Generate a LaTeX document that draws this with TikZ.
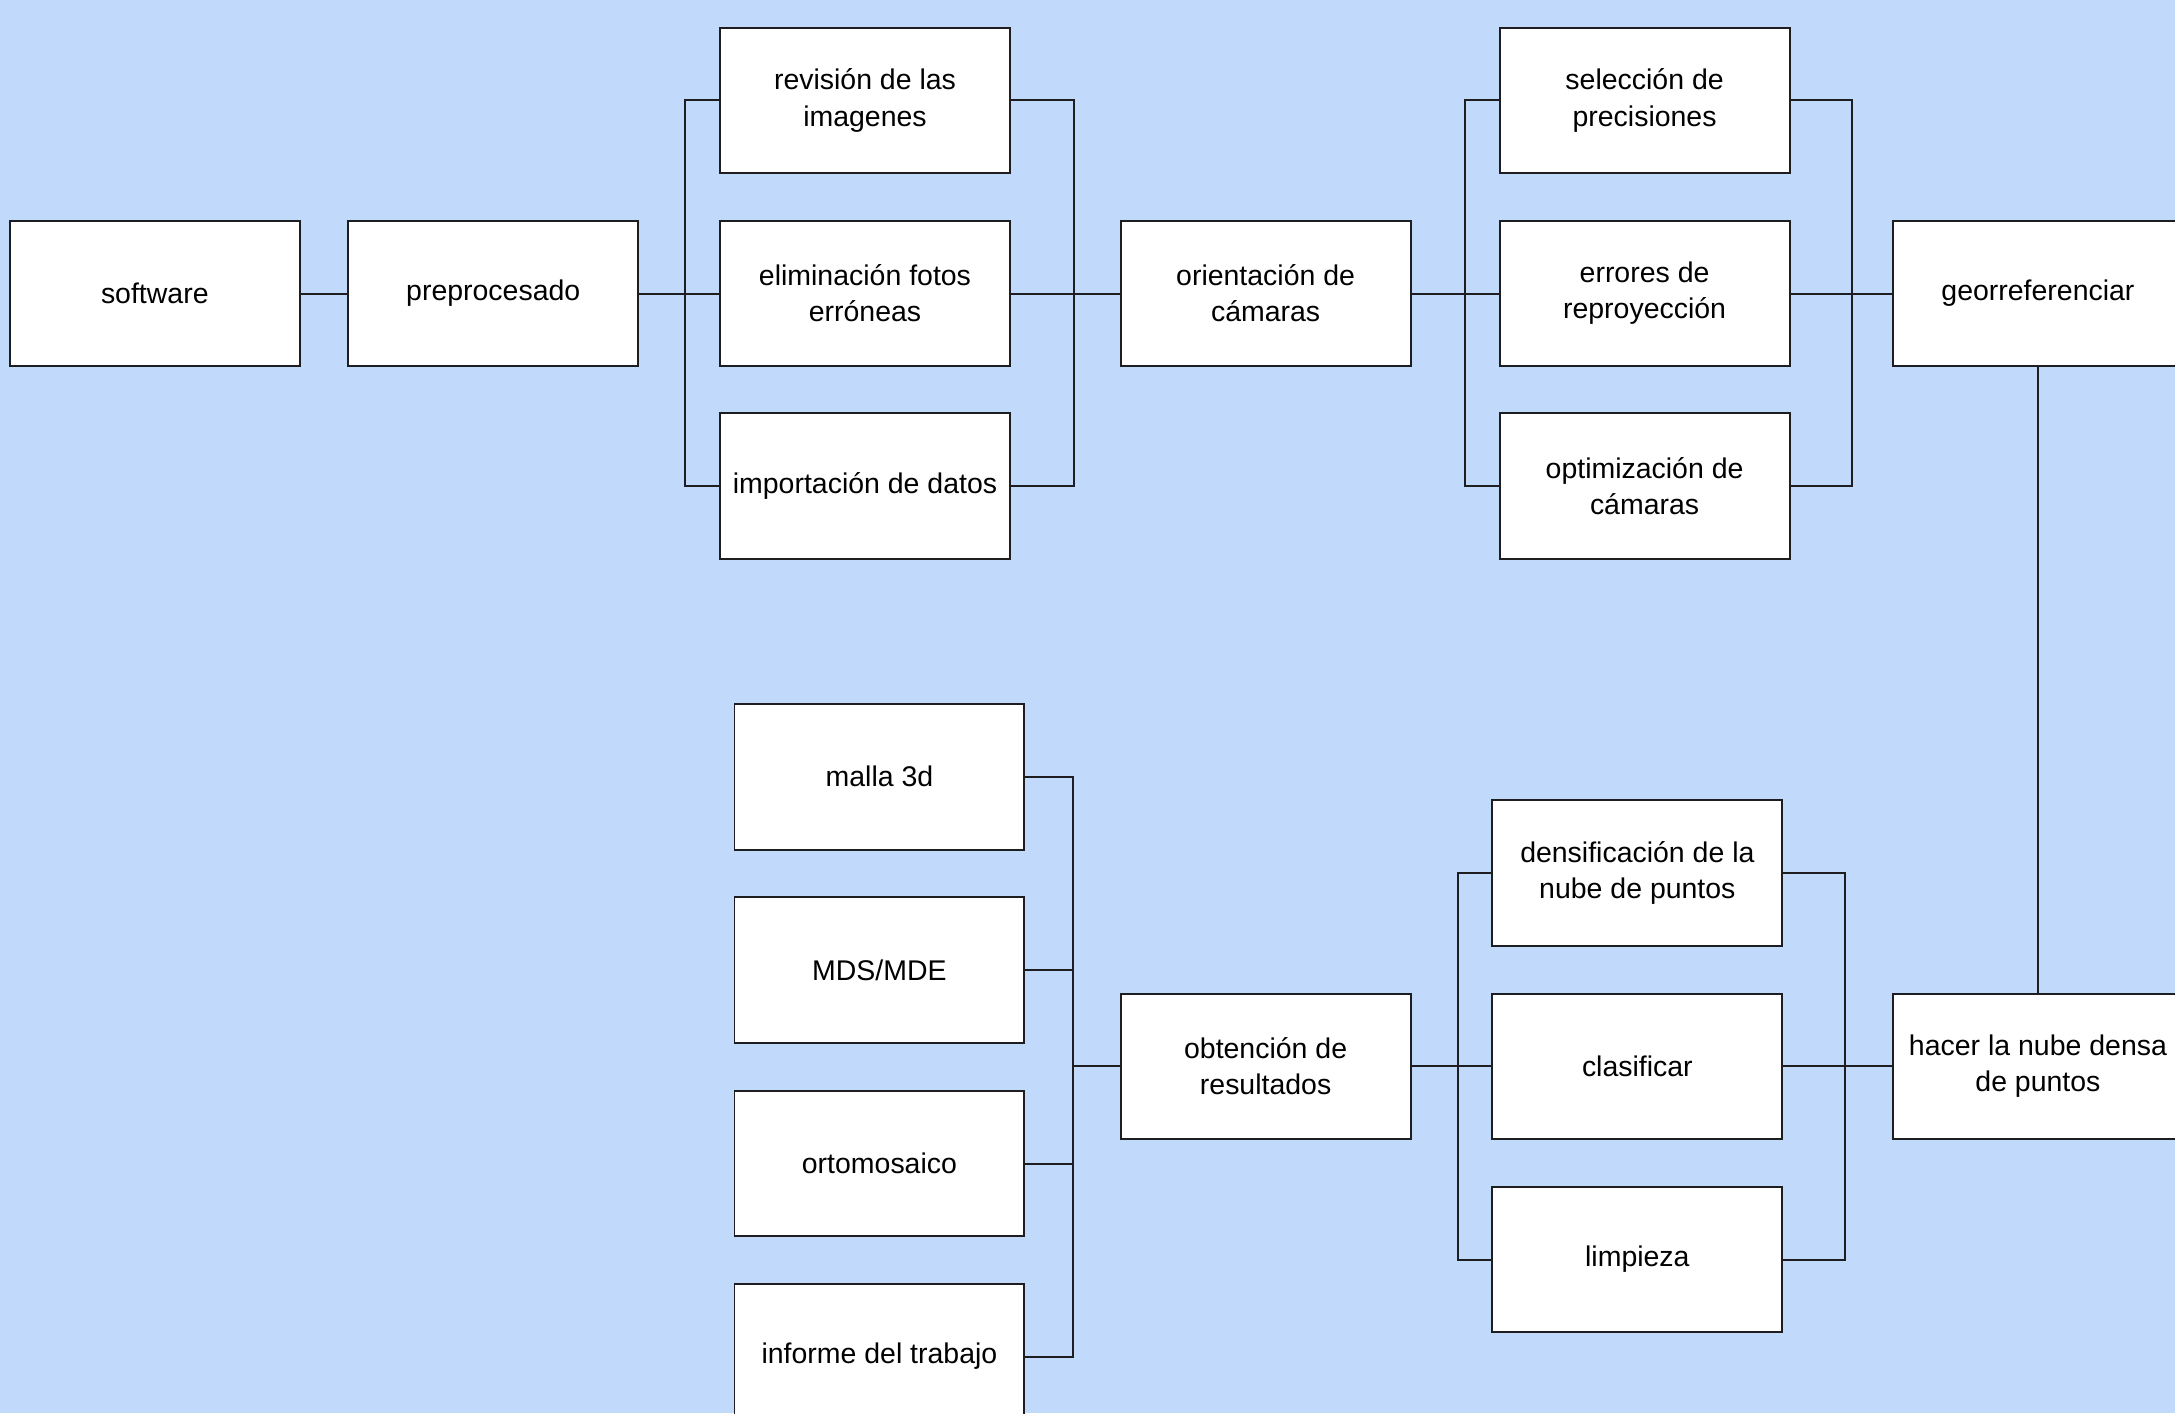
\documentclass[tikz,border=0pt]{standalone}
\usepackage{fontspec}
\setmainfont{Liberation Sans}
\usepackage{tkz-graph}
\definecolor{fondo}{RGB}{193,218,251}
\definecolor{trazo}{RGB}{30,30,32}

\begin{document}
\begin{tikzpicture}
\GraphInit[vstyle = Normal]
\tikzset{
  VertexStyle/.append style = { shape=rectangle, fill=white, draw=trazo,
                                line width=1pt, inner sep=2pt,
                                minimum width=5.225cm, minimum height=2.625cm,
                                align=center,
                                font = \fontsize{14.6}{18.5}\selectfont},
  EdgeStyle/.append style = {draw=trazo, line width=1pt},
}
  \path[use as bounding box, fill=fondo] (0,0) rectangle (39.2,-25.475);

  % primera fila
  \Vertex[x=2.79,  y=-5.29, L=software]{Soft}
  \Vertex[x=8.89,  y=-5.29, L=preprocesado]{Pre}
  \Vertex[x=15.59, y=-1.81, L={revisión de las\\imagenes}]{Rev}
  \Vertex[x=15.59, y=-5.29, L={eliminación fotos\\erróneas}]{Eli}
  \Vertex[x=15.59, y=-8.76, L={importación de datos}]{Imp}
  \Vertex[x=22.81, y=-5.29, L={orientación de\\cámaras}]{Ori}
  \Vertex[x=29.64, y=-1.81, L={selección de\\precisiones}]{Sel}
  \Vertex[x=29.64, y=-5.29, L={errores de\\reproyección}]{Err}
  \Vertex[x=29.64, y=-8.76, L={optimización de\\cámaras}]{Opt}
  \Vertex[x=36.73, y=-5.29, L=georreferenciar]{Geo}

  % segunda fila
  \Vertex[x=36.73, y=-19.22, L={hacer la nube densa\\de puntos}]{Hac}
  \Vertex[x=29.51, y=-15.73, L={densificación de la\\nube de puntos}]{Den}
  \Vertex[x=29.51, y=-19.22, L=clasificar]{Cla}
  \Vertex[x=29.51, y=-22.70, L=limpieza]{Lim}
  \Vertex[x=22.81, y=-19.22, L={obtención de\\resultados}]{Obt}
  \Vertex[x=15.85, y=-14.00, L={malla 3d}]{Mal}
  \Vertex[x=15.85, y=-17.48, L={MDS/MDE}]{Mds}
  \Vertex[x=15.85, y=-20.97, L=ortomosaico]{Ort}
  \Vertex[x=15.85, y=-24.45, L={informe del trabajo}]{Inf}

  \Edge(Soft)(Pre)
  \Edge(Pre)(Eli)
  \Edge(Eli)(Ori)
  \Edge(Ori)(Err)
  \Edge(Err)(Geo)
  \Edge(Geo)(Hac)
  \Edge(Hac)(Cla)
  \Edge(Cla)(Obt)

  \tikzset{EdgeStyle/.append style = {line join=round}}

  \draw [trazo, line width=1pt] (Rev.west) -- ++(-0.61,0) |- (Imp.west);
  \draw [trazo, line width=1pt] (Rev.east) -- ++(1.13,0) |- (Imp.east);
  \draw [trazo, line width=1pt] (Sel.west) -- ++(-0.61,0) |- (Opt.west);
  \draw [trazo, line width=1pt] (Sel.east) -- ++(1.115,0) |- (Opt.east);
  \draw [trazo, line width=1pt] (Den.west) -- ++(-0.605,0) |- (Lim.west);
  \draw [trazo, line width=1pt] (Den.east) -- ++(1.11,0) |- (Lim.east);

  \draw [trazo, line width=1pt] (Mal.east) -- ++(0.865,0) coordinate (Bus) |- (Inf.east);
  \draw [trazo, line width=1pt] (Mds.east) -- (Mds.east -| Bus);
  \draw [trazo, line width=1pt] (Ort.east) -- (Ort.east -| Bus);
  \draw [trazo, line width=1pt] (Obt.west) -- (Obt.west -| Bus);

\end{tikzpicture}
\end{document}
